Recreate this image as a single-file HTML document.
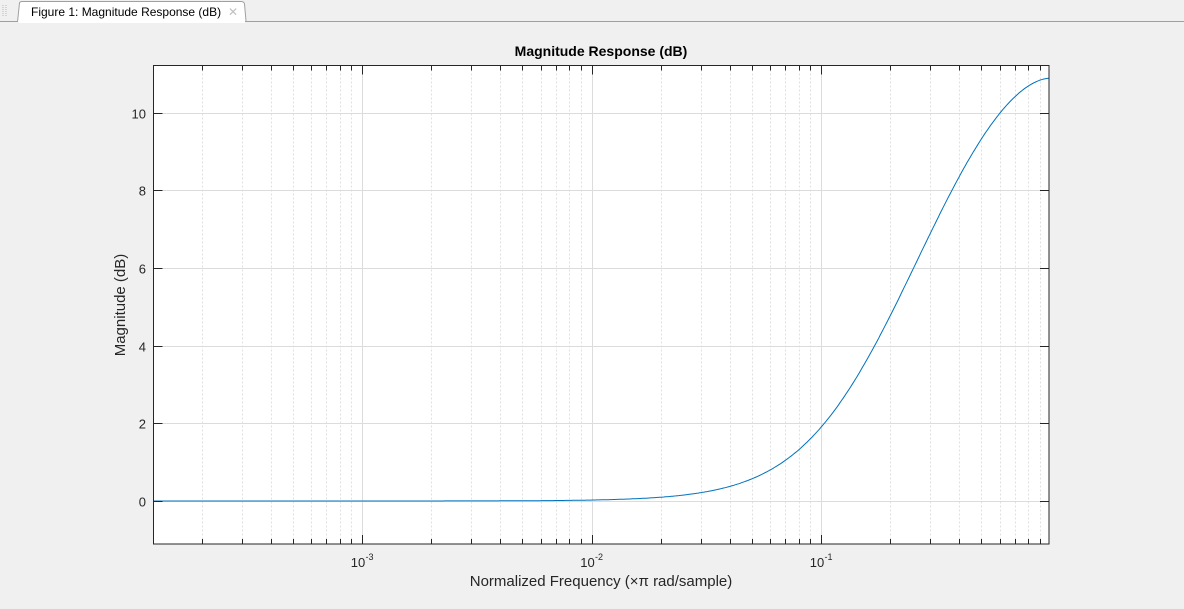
<!DOCTYPE html>
<html><head><meta charset="utf-8"><style>
body{margin:0;width:1184px;height:609px;background:#f0f0f0;overflow:hidden;font-family:"Liberation Sans",sans-serif}
</style></head><body>
<svg width="1184" height="609" xmlns="http://www.w3.org/2000/svg" id="s" style="position:absolute;left:0;top:0">
<rect x="0" y="0" width="1184" height="22" fill="#f0f0f0"/>
<line x1="0" y1="21.5" x2="1184" y2="21.5" stroke="#a0a0a0"/>
<g stroke="#b8b8b8"><line x1="3" y1="5" x2="3" y2="17" stroke-dasharray="1 1"/><line x1="6" y1="5" x2="6" y2="17" stroke-dasharray="1 1"/></g>
<path d="M17.5 22 L19.5 3 Q20 1.5 22 1.5 L241 1.5 Q244 1.5 244.5 4 L246 21" fill="#fff" stroke="#a0a0a0"/>
<rect x="19" y="20" width="226" height="3" fill="#fff"/>
<text x="31" y="16" font-size="12" fill="#000">Figure 1: Magnitude Response (dB)</text>
<text x="228" y="16" font-size="12" fill="#c0c0c0">✕</text>
<rect x="153.5" y="65.5" width="895.5" height="478.5" fill="#fff"/>
<g id="grid"></g>
<path id="curve" fill="none" stroke="#0072bd" stroke-width="1"/>
<rect x="153.5" y="65.5" width="895.5" height="478.5" fill="none" stroke="#262626"/>
<g id="ticks" stroke="#262626"></g>
<g id="labels" font-size="13" fill="#262626"></g>
<text x="601" y="56" font-size="14" font-weight="bold" text-anchor="middle" fill="#000">Magnitude Response (dB)</text>
<text x="601" y="586" font-size="15" text-anchor="middle" fill="#262626">Normalized Frequency (×π rad/sample)</text>
<text transform="translate(125,305) rotate(-90)" font-size="15" text-anchor="middle" fill="#262626">Magnitude (dB)</text>
</svg>
<script>
var L=153.5,R=1049,T=65.5,B=544,dec=229.5;
function X(f){return 821+Math.log10(f)*dec+dec;}
function Y(d){return 501-d*38.85;}
var ns="http://www.w3.org/2000/svg";
function el(p,t,a){var e=document.createElementNS(ns,t);for(var k in a)e.setAttribute(k,a[k]);document.getElementById(p).appendChild(e);return e;}
for(var e=-4;e<=0;e++)for(var m=1;m<10;m++){var f=m*Math.pow(10,e),x=X(f);if(x<=L+1||x>=R-1)continue;x=Math.round(x)+0.5;
 if(m==1){el("grid","line",{x1:x,x2:x,y1:T,y2:B,stroke:"#dcdcdc"});el("ticks","line",{x1:x,x2:x,y1:B,y2:B-9});el("ticks","line",{x1:x,x2:x,y1:T,y2:T+9});}
 else{el("grid","line",{x1:x,x2:x,y1:T,y2:B,stroke:"#e0e0e0","stroke-dasharray":"2 2"});el("ticks","line",{x1:x,x2:x,y1:B,y2:B-5});el("ticks","line",{x1:x,x2:x,y1:T,y2:T+5});}}
for(var d=0;d<=10;d+=2){var y=Math.round(Y(d))+0.5;
 el("grid","line",{x1:L,x2:R,y1:y,y2:y,stroke:"#dcdcdc"});el("ticks","line",{x1:L,x2:L+9,y1:y,y2:y});el("ticks","line",{x1:R,x2:R-9,y1:y,y2:y});
 var t=el("labels","text",{x:146,y:y+5,"text-anchor":"end"});t.textContent=d;}
[[-3,X(0.001)],[-2,X(0.01)],[-1,X(0.1)]].forEach(function(a){var t=el("labels","text",{x:a[1]-4,y:567,"text-anchor":"middle"});t.textContent="10";var s=el("labels","text",{x:a[1]+3.5,y:560,"font-size":"9"});s.textContent="-"+(-a[0]);});
var wz=0.2,wp=0.7,p="";
for(var i=0;i<=600;i++){var x=L+(R-L)*i/600;var f=Math.pow(10,(x-821)/dec-1);var W=Math.tan(Math.PI*f/2);
 var g=10*Math.log10((1+W*W/(wz*wz))/(1+W*W/(wp*wp)));p+=(i?"L":"M")+x.toFixed(1)+" "+Y(g).toFixed(1);}
document.getElementById("curve").setAttribute("d",p);
</script>
</body></html>
